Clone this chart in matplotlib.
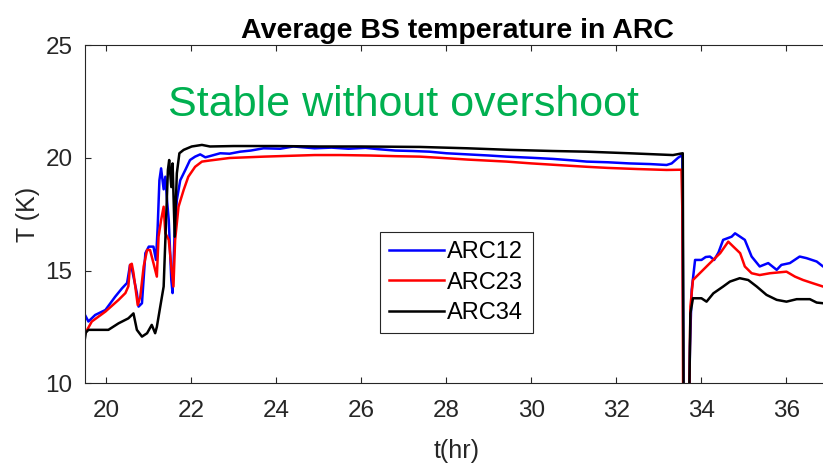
import matplotlib
matplotlib.use("Agg")
import matplotlib.pyplot as plt

# ---------------- data ----------------
t_arc12 = [19.50, 19.58, 19.74, 19.98, 20.21, 20.37, 20.49, 20.56, 20.60, 20.72, 20.76, 20.84,
           20.92, 21.00, 21.11, 21.17, 21.21, 21.25, 21.29, 21.35, 21.39, 21.43, 21.47, 21.53,
           21.56, 21.61, 21.66, 21.74, 21.86, 21.97, 22.09, 22.21, 22.33, 22.45, 22.68, 22.90,
           23.15, 23.40, 23.70, 24.09, 24.40, 24.90, 25.30, 25.70, 26.10, 26.40, 26.80, 27.20,
           27.60, 28.00, 28.50, 29.00, 29.42, 30.00, 30.50, 31.00, 31.30, 31.80, 32.30, 32.80,
           33.18, 33.30, 33.45, 33.55, 33.58, 33.71, 33.73, 33.77, 33.85, 34.00, 34.10, 34.20,
           34.30, 34.40, 34.51, 34.71, 34.79, 34.91, 35.02, 35.18, 35.37, 35.57, 35.77, 35.88,
           36.08, 36.31, 36.47, 36.71, 36.86, 37.00]
T_arc12 = [13.03, 12.74, 13.03, 13.25, 13.84, 14.21, 14.45, 15.25, 15.10, 14.00, 13.40, 13.55,
           15.77, 16.06, 16.06, 15.47, 16.95, 19.00, 19.53, 18.60, 19.16, 18.10, 17.24, 14.58,
           14.00, 16.80, 18.13, 19.00, 19.46, 19.90, 20.05, 20.15, 20.02, 20.08, 20.20, 20.18,
           20.27, 20.32, 20.42, 20.40, 20.50, 20.42, 20.45, 20.40, 20.44, 20.38, 20.32, 20.30,
           20.27, 20.20, 20.15, 20.10, 20.05, 20.00, 19.95, 19.88, 19.83, 19.80, 19.75, 19.72,
           19.68, 19.75, 20.00, 20.12, 9.00, 9.00, 11.63, 14.14, 15.47, 15.47, 15.60, 15.62,
           15.47, 15.80, 16.36, 16.50, 16.65, 16.50, 16.36, 15.62, 15.18, 15.33, 15.03, 15.25,
           15.33, 15.62, 15.55, 15.40, 15.18, 15.10]

t_arc23 = [19.50, 19.66, 19.98, 20.29, 20.45, 20.52, 20.56, 20.60, 20.64, 20.74, 20.80, 20.88,
           20.96, 21.03, 21.11, 21.19, 21.23, 21.29, 21.35, 21.39, 21.47, 21.53, 21.58, 21.62,
           21.70, 21.82, 21.93, 22.09, 22.25, 22.44, 22.90, 23.30, 23.70, 24.20, 24.90, 25.50,
           26.20, 26.80, 27.38, 28.00, 28.50, 29.42, 30.00, 30.60, 31.30, 31.80, 32.50, 33.18,
           33.53, 33.55, 33.57, 33.71, 33.74, 33.80, 33.96, 34.20, 34.44, 34.63, 34.75, 34.91,
           35.02, 35.18, 35.37, 35.61, 36.00, 36.20, 36.39, 36.63, 36.86, 37.00]
T_arc23 = [12.20, 12.74, 13.18, 13.70, 14.00, 14.30, 15.25, 15.30, 14.90, 13.47, 13.84, 15.18,
           15.91, 15.91, 15.33, 14.73, 16.50, 17.24, 17.83, 16.65, 16.36, 15.18, 14.29, 16.36,
           17.83, 18.57, 19.16, 19.60, 19.83, 19.88, 19.99, 20.02, 20.05, 20.08, 20.12, 20.12,
           20.10, 20.07, 20.05, 19.98, 19.92, 19.83, 19.75, 19.68, 19.60, 19.55, 19.50, 19.46,
           19.47, 17.69, 9.00, 9.00, 13.40, 14.58, 14.88, 15.33, 15.77, 16.28, 16.06, 15.77,
           15.18, 14.88, 14.80, 14.88, 14.95, 14.73, 14.58, 14.43, 14.29, 14.20]

t_arc34 = [19.50, 19.52, 19.58, 20.05, 20.29, 20.52, 20.64, 20.72, 20.84, 20.96, 21.07, 21.15,
           21.19, 21.27, 21.35, 21.39, 21.45, 21.48, 21.53, 21.56, 21.61, 21.66, 21.72, 21.82,
           22.01, 22.25, 22.44, 23.00, 24.00, 25.00, 26.00, 27.38, 28.50, 29.50, 30.50, 31.30,
           32.30, 33.33, 33.50, 33.56, 33.58, 33.71, 33.74, 33.80, 34.00, 34.12, 34.28, 34.51,
           34.67, 34.90, 35.10, 35.30, 35.53, 35.77, 36.00, 36.24, 36.55, 36.71, 36.86, 37.00]
T_arc34 = [12.00, 12.25, 12.37, 12.37, 12.66, 12.88, 13.10, 12.37, 12.07, 12.22, 12.59, 12.22,
           12.50, 13.40, 14.29, 16.36, 19.46, 19.90, 18.70, 19.75, 16.50, 19.31, 20.20, 20.35,
           20.50, 20.57, 20.50, 20.52, 20.52, 20.50, 20.50, 20.48, 20.42, 20.35, 20.30, 20.27,
           20.20, 20.12, 20.18, 20.20, 9.00, 9.00, 13.10, 13.77, 13.77, 13.62, 13.99, 14.29,
           14.51, 14.66, 14.58, 14.29, 13.92, 13.70, 13.62, 13.73, 13.73, 13.58, 13.55, 13.50]

x_ticks = [20, 22, 24, 26, 28, 30, 32, 34, 36]
y_ticks = [10, 15, 20, 25]

# ---------------- figure ----------------
plt.rcParams['font.family'] = ['Liberation Sans', 'DejaVu Sans']
fig = plt.figure(figsize=(8.23, 4.67), dpi=100)
ax = fig.add_axes([85 / 823, (467 - 383.3) / 467, (829 - 85) / 823, (383.3 - 45) / 467])

ax.plot(t_arc12, T_arc12, color='#0000FF', lw=1.8, label='ARC12')
ax.plot(t_arc23, T_arc23, color='#FF0000', lw=1.8, label='ARC23')
ax.plot(t_arc34, T_arc34, color='#000000', lw=1.8, label='ARC34')

ax.set_xlim(19.5, 37)
ax.set_ylim(10, 25)
ax.set_xticks(x_ticks)
ax.set_yticks(y_ticks)

tc = '#262626'
for s in ax.spines.values():
    s.set_color(tc)
    s.set_linewidth(0.8)
ax.tick_params(direction='in', length=4.5, width=0.8, color=tc, labelcolor=tc,
               labelsize=17.5, top=True, right=True)
ax.tick_params(axis='x', pad=12)
ax.tick_params(axis='y', pad=9)

ax.set_title('Average BS temperature in ARC', fontsize=20.5, fontweight='bold',
             color='black', pad=5)
ax.set_xlabel('t(hr)', fontsize=18, color=tc, labelpad=12)
ax.set_ylabel('T (K)', fontsize=18, color=tc, labelpad=4)

ax.text(21.46, 22.35, 'Stable without overshoot', color='#00B050', fontsize=31,
        ha='left', va='center')

leg = ax.legend(loc='upper left', bbox_to_anchor=(380 / 823, (467 - 232) / 467),
                bbox_transform=fig.transFigure, fontsize=17, frameon=True,
                fancybox=False, framealpha=1, edgecolor=tc, handlelength=2.3,
                handletextpad=0.15, labelspacing=0.35, borderpad=0.4,
                borderaxespad=0)
leg.get_frame().set_linewidth(0.8)

fig.savefig('out.png', dpi=100)
